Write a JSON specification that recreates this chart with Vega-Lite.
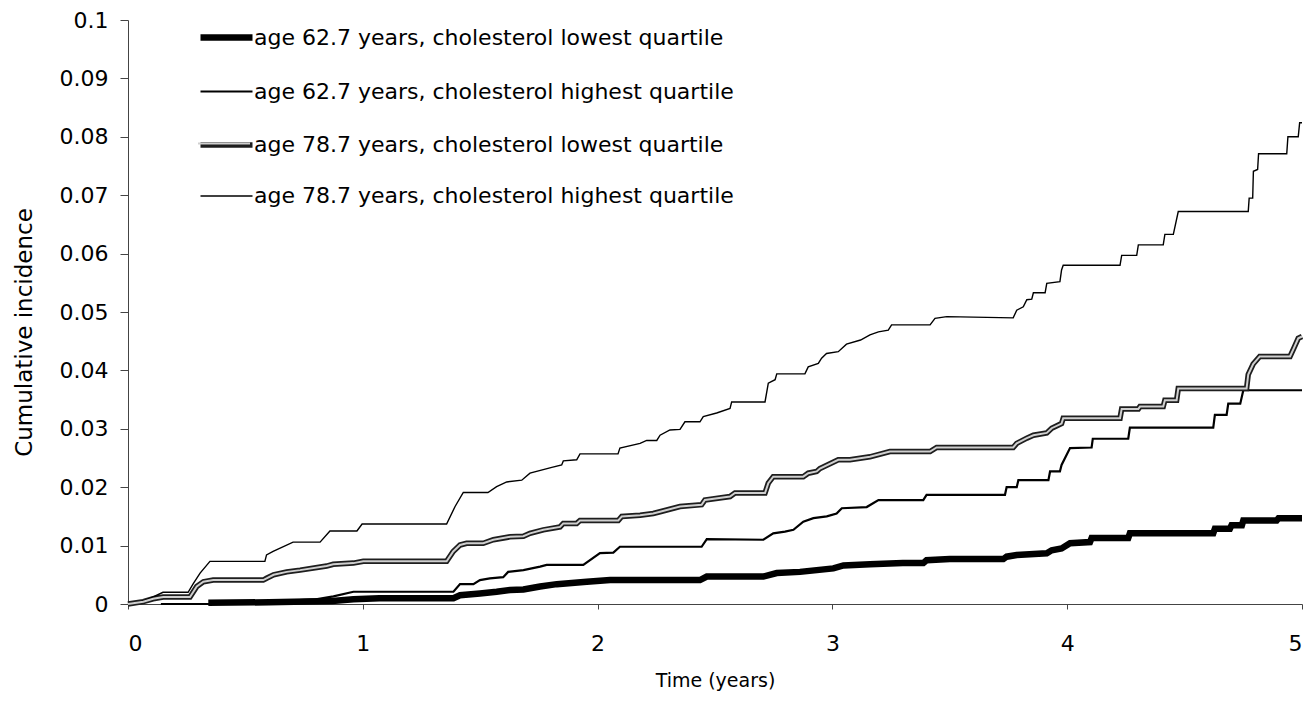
{
  "$schema": "https://vega.github.io/schema/vega-lite/v6.json",
  "width": 1174,
  "height": 584,
  "autosize": {"type": "none"},
  "padding": {"left": 128, "top": 20, "right": 8, "bottom": 99},
  "background": "white",
  "config": {"view": {"stroke": null}, "font": "DejaVu Sans"},
  "datasets": {
    "series": [
      {"g": "a", "label": "age 62.7 years, cholesterol lowest quartile"},
      {"g": "b", "label": "age 62.7 years, cholesterol highest quartile"},
      {"g": "c", "label": "age 78.7 years, cholesterol lowest quartile"},
      {"g": "d", "label": "age 78.7 years, cholesterol highest quartile"}
    ],
    "pts": [
      {"g":"a","t":0.342,"v":0.0002},{"g":"a","t":0.6,"v":0.0003},{"g":"a","t":0.87,"v":0.0005},{"g":"a","t":0.96,"v":0.0008},{"g":"a","t":1.07,"v":0.001},{"g":"a","t":1.386,"v":0.001},{"g":"a","t":1.414,"v":0.0015},{"g":"a","t":1.499,"v":0.0018},{"g":"a","t":1.57,"v":0.0021},{"g":"a","t":1.627,"v":0.0024},{"g":"a","t":1.684,"v":0.0025},{"g":"a","t":1.755,"v":0.003},{"g":"a","t":1.826,"v":0.0034},{"g":"a","t":1.954,"v":0.0038},{"g":"a","t":2.053,"v":0.0041},{"g":"a","t":2.436,"v":0.0041},{"g":"a","t":2.465,"v":0.0047},{"g":"a","t":2.706,"v":0.0047},{"g":"a","t":2.763,"v":0.0053},{"g":"a","t":2.862,"v":0.0055},{"g":"a","t":3.004,"v":0.0061},{"g":"a","t":3.047,"v":0.0066},{"g":"a","t":3.16,"v":0.0068},{"g":"a","t":3.3,"v":0.007},{"g":"a","t":3.387,"v":0.007},{"g":"a","t":3.401,"v":0.0075},{"g":"a","t":3.5,"v":0.0077},{"g":"a","t":3.728,"v":0.0077},{"g":"a","t":3.742,"v":0.0081},{"g":"a","t":3.785,"v":0.0084},{"g":"a","t":3.913,"v":0.0087},{"g":"a","t":3.934,"v":0.0092},{"g":"a","t":3.976,"v":0.0095},{"g":"a","t":4.012,"v":0.0104},{"g":"a","t":4.097,"v":0.0106},{"g":"a","t":4.104,"v":0.0113},{"g":"a","t":4.26,"v":0.0113},{"g":"a","t":4.267,"v":0.0121},{"g":"a","t":4.622,"v":0.0121},{"g":"a","t":4.629,"v":0.0129},{"g":"a","t":4.693,"v":0.0129},{"g":"a","t":4.7,"v":0.0135},{"g":"a","t":4.744,"v":0.0135},{"g":"a","t":4.75,"v":0.0143},{"g":"a","t":4.892,"v":0.0143},{"g":"a","t":4.9,"v":0.0147},{"g":"a","t":5,"v":0.0147},

      {"g":"b","t":0.14,"v":0},{"g":"b","t":0.35,"v":0},{"g":"b","t":0.8,"v":0.0008},{"g":"b","t":0.875,"v":0.0013},{"g":"b","t":0.96,"v":0.0021},{"g":"b","t":1.386,"v":0.0021},{"g":"b","t":1.414,"v":0.0034},{"g":"b","t":1.471,"v":0.0034},{"g":"b","t":1.499,"v":0.0041},{"g":"b","t":1.541,"v":0.0044},{"g":"b","t":1.598,"v":0.0046},{"g":"b","t":1.619,"v":0.0055},{"g":"b","t":1.684,"v":0.0058},{"g":"b","t":1.755,"v":0.0064},{"g":"b","t":1.783,"v":0.0067},{"g":"b","t":1.939,"v":0.0067},{"g":"b","t":2.01,"v":0.0087},{"g":"b","t":2.067,"v":0.0088},{"g":"b","t":2.095,"v":0.0098},{"g":"b","t":2.443,"v":0.0098},{"g":"b","t":2.465,"v":0.0111},{"g":"b","t":2.706,"v":0.011},{"g":"b","t":2.748,"v":0.0121},{"g":"b","t":2.798,"v":0.0124},{"g":"b","t":2.834,"v":0.0127},{"g":"b","t":2.876,"v":0.0141},{"g":"b","t":2.919,"v":0.0147},{"g":"b","t":2.976,"v":0.015},{"g":"b","t":3.018,"v":0.0155},{"g":"b","t":3.04,"v":0.0164},{"g":"b","t":3.146,"v":0.0166},{"g":"b","t":3.196,"v":0.0178},{"g":"b","t":3.387,"v":0.0178},{"g":"b","t":3.401,"v":0.0187},{"g":"b","t":3.735,"v":0.0187},{"g":"b","t":3.742,"v":0.02},{"g":"b","t":3.785,"v":0.02},{"g":"b","t":3.792,"v":0.0212},{"g":"b","t":3.92,"v":0.0212},{"g":"b","t":3.927,"v":0.0227},{"g":"b","t":3.969,"v":0.0227},{"g":"b","t":3.976,"v":0.0238},{"g":"b","t":4.012,"v":0.0267},{"g":"b","t":4.104,"v":0.0268},{"g":"b","t":4.109,"v":0.0283},{"g":"b","t":4.26,"v":0.0283},{"g":"b","t":4.267,"v":0.0302},{"g":"b","t":4.622,"v":0.0302},{"g":"b","t":4.629,"v":0.0324},{"g":"b","t":4.679,"v":0.0324},{"g":"b","t":4.686,"v":0.0343},{"g":"b","t":4.737,"v":0.0343},{"g":"b","t":4.75,"v":0.0366},{"g":"b","t":5,"v":0.0366},

      {"g":"c","t":0,"v":0},{"g":"c","t":0.065,"v":0.0004},{"g":"c","t":0.107,"v":0.0009},{"g":"c","t":0.15,"v":0.0012},{"g":"c","t":0.264,"v":0.0012},{"g":"c","t":0.293,"v":0.003},{"g":"c","t":0.321,"v":0.0038},{"g":"c","t":0.363,"v":0.0041},{"g":"c","t":0.576,"v":0.0041},{"g":"c","t":0.59,"v":0.0044},{"g":"c","t":0.62,"v":0.005},{"g":"c","t":0.676,"v":0.0055},{"g":"c","t":0.733,"v":0.0058},{"g":"c","t":0.846,"v":0.0065},{"g":"c","t":0.874,"v":0.0068},{"g":"c","t":0.96,"v":0.007},{"g":"c","t":1.002,"v":0.0073},{"g":"c","t":1.357,"v":0.0073},{"g":"c","t":1.385,"v":0.009},{"g":"c","t":1.414,"v":0.0101},{"g":"c","t":1.442,"v":0.0104},{"g":"c","t":1.513,"v":0.0104},{"g":"c","t":1.556,"v":0.011},{"g":"c","t":1.627,"v":0.0115},{"g":"c","t":1.684,"v":0.0116},{"g":"c","t":1.712,"v":0.0121},{"g":"c","t":1.769,"v":0.0127},{"g":"c","t":1.84,"v":0.0132},{"g":"c","t":1.854,"v":0.0138},{"g":"c","t":1.911,"v":0.0138},{"g":"c","t":1.925,"v":0.0143},{"g":"c","t":2.088,"v":0.0143},{"g":"c","t":2.103,"v":0.015},{"g":"c","t":2.181,"v":0.0152},{"g":"c","t":2.237,"v":0.0155},{"g":"c","t":2.266,"v":0.0158},{"g":"c","t":2.351,"v":0.0167},{"g":"c","t":2.443,"v":0.017},{"g":"c","t":2.457,"v":0.0178},{"g":"c","t":2.564,"v":0.0184},{"g":"c","t":2.585,"v":0.019},{"g":"c","t":2.713,"v":0.019},{"g":"c","t":2.727,"v":0.0207},{"g":"c","t":2.748,"v":0.0218},{"g":"c","t":2.876,"v":0.0218},{"g":"c","t":2.897,"v":0.0224},{"g":"c","t":2.933,"v":0.0227},{"g":"c","t":2.947,"v":0.0232},{"g":"c","t":3.025,"v":0.0247},{"g":"c","t":3.075,"v":0.0247},{"g":"c","t":3.16,"v":0.0252},{"g":"c","t":3.245,"v":0.0261},{"g":"c","t":3.416,"v":0.0261},{"g":"c","t":3.444,"v":0.0268},{"g":"c","t":3.77,"v":0.0268},{"g":"c","t":3.785,"v":0.0275},{"g":"c","t":3.828,"v":0.0284},{"g":"c","t":3.856,"v":0.0289},{"g":"c","t":3.913,"v":0.0293},{"g":"c","t":3.934,"v":0.0301},{"g":"c","t":3.976,"v":0.0309},{"g":"c","t":3.983,"v":0.0318},{"g":"c","t":4.225,"v":0.0318},{"g":"c","t":4.232,"v":0.0334},{"g":"c","t":4.303,"v":0.0334},{"g":"c","t":4.31,"v":0.0338},{"g":"c","t":4.409,"v":0.0338},{"g":"c","t":4.416,"v":0.0349},{"g":"c","t":4.466,"v":0.0349},{"g":"c","t":4.473,"v":0.0369},{"g":"c","t":4.764,"v":0.0369},{"g":"c","t":4.771,"v":0.0393},{"g":"c","t":4.792,"v":0.0411},{"g":"c","t":4.82,"v":0.0424},{"g":"c","t":4.949,"v":0.0424},{"g":"c","t":4.963,"v":0.0436},{"g":"c","t":4.984,"v":0.0455},{"g":"c","t":5,"v":0.0458},

      {"g":"d","t":0,"v":0},{"g":"d","t":0.065,"v":0.0005},{"g":"d","t":0.107,"v":0.0012},{"g":"d","t":0.149,"v":0.002},{"g":"d","t":0.256,"v":0.002},{"g":"d","t":0.278,"v":0.0035},{"g":"d","t":0.307,"v":0.0053},{"g":"d","t":0.349,"v":0.0073},{"g":"d","t":0.583,"v":0.0073},{"g":"d","t":0.59,"v":0.0084},{"g":"d","t":0.618,"v":0.009},{"g":"d","t":0.703,"v":0.0106},{"g":"d","t":0.818,"v":0.0106},{"g":"d","t":0.86,"v":0.0125},{"g":"d","t":0.975,"v":0.0125},{"g":"d","t":0.997,"v":0.0137},{"g":"d","t":1.357,"v":0.0137},{"g":"d","t":1.393,"v":0.0167},{"g":"d","t":1.428,"v":0.0191},{"g":"d","t":1.533,"v":0.0191},{"g":"d","t":1.57,"v":0.0201},{"g":"d","t":1.613,"v":0.0209},{"g":"d","t":1.677,"v":0.0212},{"g":"d","t":1.712,"v":0.0224},{"g":"d","t":1.805,"v":0.0234},{"g":"d","t":1.847,"v":0.0238},{"g":"d","t":1.854,"v":0.0245},{"g":"d","t":1.911,"v":0.0247},{"g":"d","t":1.925,"v":0.0257},{"g":"d","t":2.087,"v":0.0257},{"g":"d","t":2.095,"v":0.0267},{"g":"d","t":2.181,"v":0.0275},{"g":"d","t":2.209,"v":0.028},{"g":"d","t":2.252,"v":0.028},{"g":"d","t":2.266,"v":0.0289},{"g":"d","t":2.308,"v":0.0298},{"g":"d","t":2.351,"v":0.0299},{"g":"d","t":2.372,"v":0.0312},{"g":"d","t":2.436,"v":0.0312},{"g":"d","t":2.45,"v":0.0321},{"g":"d","t":2.507,"v":0.0327},{"g":"d","t":2.564,"v":0.0335},{"g":"d","t":2.571,"v":0.0346},{"g":"d","t":2.713,"v":0.0346},{"g":"d","t":2.727,"v":0.0378},{"g":"d","t":2.756,"v":0.0384},{"g":"d","t":2.763,"v":0.0394},{"g":"d","t":2.883,"v":0.0394},{"g":"d","t":2.897,"v":0.0406},{"g":"d","t":2.94,"v":0.0412},{"g":"d","t":2.954,"v":0.0421},{"g":"d","t":2.975,"v":0.0429},{"g":"d","t":3.025,"v":0.0432},{"g":"d","t":3.06,"v":0.0445},{"g":"d","t":3.12,"v":0.0452},{"g":"d","t":3.16,"v":0.0461},{"g":"d","t":3.196,"v":0.0466},{"g":"d","t":3.238,"v":0.0469},{"g":"d","t":3.252,"v":0.0478},{"g":"d","t":3.416,"v":0.0478},{"g":"d","t":3.437,"v":0.0489},{"g":"d","t":3.487,"v":0.0492},{"g":"d","t":3.77,"v":0.049},{"g":"d","t":3.785,"v":0.0503},{"g":"d","t":3.813,"v":0.0509},{"g":"d","t":3.828,"v":0.0521},{"g":"d","t":3.849,"v":0.0522},{"g":"d","t":3.856,"v":0.0533},{"g":"d","t":3.906,"v":0.0533},{"g":"d","t":3.913,"v":0.0549},{"g":"d","t":3.969,"v":0.0552},{"g":"d","t":3.976,"v":0.0572},{"g":"d","t":3.983,"v":0.058},{"g":"d","t":4.225,"v":0.058},{"g":"d","t":4.232,"v":0.0597},{"g":"d","t":4.296,"v":0.0597},{"g":"d","t":4.303,"v":0.0615},{"g":"d","t":4.409,"v":0.0615},{"g":"d","t":4.416,"v":0.0633},{"g":"d","t":4.452,"v":0.0633},{"g":"d","t":4.473,"v":0.0672},{"g":"d","t":4.771,"v":0.0672},{"g":"d","t":4.775,"v":0.0695},{"g":"d","t":4.79,"v":0.0695},{"g":"d","t":4.793,"v":0.0741},{"g":"d","t":4.811,"v":0.0744},{"g":"d","t":4.815,"v":0.0771},{"g":"d","t":4.935,"v":0.0771},{"g":"d","t":4.94,"v":0.08},{"g":"d","t":4.984,"v":0.08},{"g":"d","t":4.99,"v":0.0824},{"g":"d","t":5,"v":0.0824}
    ]
  },
  "data": {"name": "pts"},
  "transform": [
    {"lookup": "g", "from": {"data": {"name": "series"}, "key": "g", "fields": ["label"]}}
  ],
  "encoding": {
    "x": {
      "field": "t", "type": "quantitative",
      "scale": {"domain": [0, 5], "nice": false, "zero": false},
      "axis": {
        "title": "Time (years)", "values": [0, 1, 2, 3, 4, 5], "format": "d",
        "grid": false, "tickSize": 5, "labelPadding": 24, "labelFontSize": 22,
        "labelColor": "#000", "domainColor": "#444", "tickColor": "#444",
        "titleFontSize": 19, "titleFontWeight": "normal", "titleColor": "#000", "titlePadding": 17
      }
    },
    "y": {
      "field": "v", "type": "quantitative",
      "scale": {"domain": [0, 0.1], "nice": false},
      "axis": {
        "title": "Cumulative incidence",
        "values": [0, 0.01, 0.02, 0.03, 0.04, 0.05, 0.06, 0.07, 0.08, 0.09, 0.1],
        "format": ".2~f", "grid": false, "tickSize": 8, "labelPadding": 12,
        "labelFontSize": 22, "labelColor": "#000", "domainColor": "#444", "tickColor": "#444",
        "titleFontSize": 23, "titleFontWeight": "normal", "titleColor": "#000", "titlePadding": 23,
        "titleY": 312
      }
    }
  },
  "layer": [
    {
      "mark": {"type": "line", "strokeJoin": "miter", "strokeCap": "butt"},
      "encoding": {
        "stroke": {
          "field": "label", "type": "nominal",
          "scale": {
            "domain": [
              "age 62.7 years, cholesterol lowest quartile",
              "age 62.7 years, cholesterol highest quartile",
              "age 78.7 years, cholesterol lowest quartile",
              "age 78.7 years, cholesterol highest quartile"
            ],
            "range": ["#000000", "#000000", "#1e1e1e", "#000000"]
          },
          "legend": {
            "title": null, "orient": "none", "legendX": 69, "legendY": -12,
            "symbolType": "stroke", "symbolSize": 2704, "labelFontSize": 22,
            "labelColor": "#000", "labelOffset": -2, "rowPadding": 13, "labelLimit": 0
          }
        },
        "strokeWidth": {
          "field": "label", "type": "nominal",
          "scale": {
            "type": "ordinal",
            "domain": [
              "age 62.7 years, cholesterol lowest quartile",
              "age 62.7 years, cholesterol highest quartile",
              "age 78.7 years, cholesterol lowest quartile",
              "age 78.7 years, cholesterol highest quartile"
            ],
            "range": [6.5, 2.2, 5.5, 1.4]
          },
          "legend": {
            "title": null, "orient": "none", "legendX": 69, "legendY": -12,
            "symbolType": "stroke", "symbolSize": 2704, "labelFontSize": 22,
            "labelColor": "#000", "labelOffset": -2, "rowPadding": 13, "labelLimit": 0
          }
        }
      }
    },
    {
      "transform": [{"filter": "datum.g === 'c'"}],
      "mark": {"type": "line", "strokeWidth": 2, "strokeJoin": "miter", "strokeCap": "butt"},
      "encoding": {
        "color": {
          "field": "label", "type": "nominal",
          "scale": {
            "domain": [
              "age 62.7 years, cholesterol lowest quartile",
              "age 62.7 years, cholesterol highest quartile",
              "age 78.7 years, cholesterol lowest quartile",
              "age 78.7 years, cholesterol highest quartile"
            ],
            "range": ["transparent", "transparent", "#cfcfcf", "transparent"]
          },
          "legend": {
            "title": null, "orient": "none", "legendX": 69, "legendY": -10.7,
            "symbolType": "stroke", "symbolSize": 2704, "symbolStrokeWidth": 2,
            "labelExpr": "''", "labelFontSize": 22, "labelOffset": -2,
            "rowPadding": 15.6, "labelLimit": 0
          }
        }
      }
    }
  ],
  "resolve": {"scale": {"color": "independent"}, "legend": {"color": "independent"}}
}
